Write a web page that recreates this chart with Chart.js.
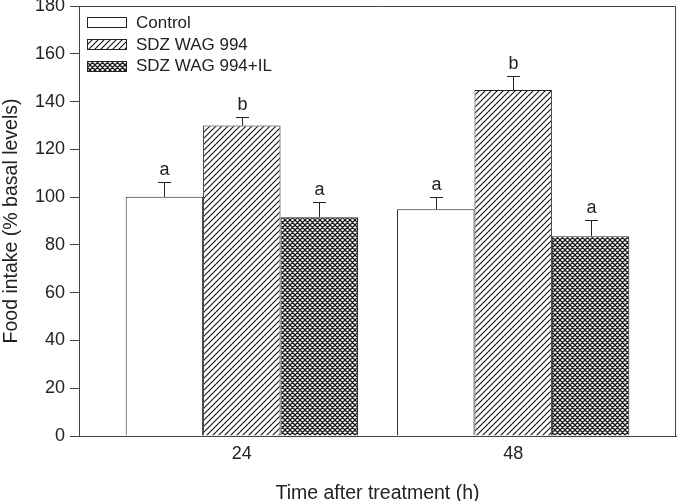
<!DOCTYPE html>
<html>
<head>
<meta charset="utf-8">
<script src="https://cdn.jsdelivr.net/npm/chart.js@4.4.1/dist/chart.umd.min.js"></script>
<style>
html,body{margin:0;padding:0;background:#fff;}
#wrap{width:677px;height:501px;position:relative;}
</style>
</head>
<body>
<div id="wrap"><canvas id="c" width="677" height="501"></canvas></div>
<script>
// ---- data ----
const categories = ['24', '48'];
const seriesNames = ['Control', 'SDZ WAG 994', 'SDZ WAG 994+IL'];
const controlValues = [100.1, 94.9];
const sdzValues = [130.0, 144.8];
const sdzIlValues = [91.6, 83.6];
const controlErrors = [6.2, 5.3];
const sdzErrors = [3.4, 6.0];
const sdzIlErrors = [6.5, 6.8];
const controlLetters = ['a', 'a'];
const sdzLetters = ['b', 'b'];
const sdzIlLetters = ['a', 'a'];
const yTicks = [0, 20, 40, 60, 80, 100, 120, 140, 160, 180];

const INK = '#222';
const FONT = 'Liberation Sans, Arial, Helvetica, sans-serif';

function makeHatch() {
  const c = document.createElement('canvas');
  c.width = 6; c.height = 6;
  const g = c.getContext('2d');
  g.fillStyle = '#fff'; g.fillRect(0, 0, 6, 6);
  g.strokeStyle = '#111'; g.lineWidth = 1.1;
  g.beginPath();
  for (let k = -1; k <= 1; k++) {
    g.moveTo(k * 6 - 1, 7); g.lineTo(k * 6 + 7, -1);
  }
  g.stroke();
  return document.getElementById('c').getContext('2d').createPattern(c, 'repeat');
}
function makeCross() {
  const n = 5;
  const c = document.createElement('canvas');
  c.width = n; c.height = n;
  const g = c.getContext('2d');
  g.fillStyle = '#fff'; g.fillRect(0, 0, n, n);
  g.strokeStyle = '#1a1a1a'; g.lineWidth = 1.3;
  g.beginPath();
  for (let k = -1; k <= 1; k++) {
    g.moveTo(k * n - 1, n + 1); g.lineTo(k * n + n + 1, -1);
    g.moveTo(k * n - 1, -1); g.lineTo(k * n + n + 1, n + 1);
  }
  g.stroke();
  return document.getElementById('c').getContext('2d').createPattern(c, 'repeat');
}

const fills = ['#ffffff', makeHatch(), makeCross()];
const valueSets = [controlValues, sdzValues, sdzIlValues];
const errorSets = [controlErrors, sdzErrors, sdzIlErrors];
const letterSets = [controlLetters, sdzLetters, sdzIlLetters];

const datasets = seriesNames.map((name, s) => ({
  label: name,
  data: categories.map((c, i) => ({ x: i + 1, y: valueSets[s][i] })),
  backgroundColor: fills[s],
  borderColor: INK,
  borderWidth: 1,
  borderSkipped: 'bottom',
  barPercentage: 1.0,
  categoryPercentage: 0.856
}));

const extras = {
  id: 'extras',
  afterDatasetsDraw(chart) {
    const ctx = chart.ctx;
    const ys = chart.scales.y;
    ctx.save();
    ctx.strokeStyle = INK; ctx.lineWidth = 1;
    ctx.fillStyle = INK;
    ctx.font = '18px ' + FONT;
    ctx.textAlign = 'center'; ctx.textBaseline = 'alphabetic';
    chart.data.datasets.forEach((ds, s) => {
      const meta = chart.getDatasetMeta(s);
      meta.data.forEach((bar, i) => {
        const v = valueSets[s][i], e = errorSets[s][i];
        const x = Math.round(bar.x) + 0.5;
        const yTop = ys.getPixelForValue(v);
        const yErr = Math.round(ys.getPixelForValue(v + e)) + 0.5;
        ctx.beginPath();
        ctx.moveTo(x, yTop); ctx.lineTo(x, yErr);
        ctx.moveTo(x - 6.5, yErr); ctx.lineTo(x + 6.5, yErr);
        ctx.stroke();
        ctx.fillText(letterSets[s][i], x, yErr - 8);
      });
    });
    // frame top/right
    const a = chart.chartArea;
    ctx.strokeStyle = '#444';
    ctx.beginPath();
    ctx.moveTo(a.left, a.top + 0.5); ctx.lineTo(a.right - 0.5, a.top + 0.5); ctx.lineTo(a.right - 0.5, a.bottom);
    ctx.stroke();
    // legend
    ctx.textAlign = 'left'; ctx.textBaseline = 'middle';
    ctx.font = '17px ' + FONT;
    const lx = 87.5, bw = 39, bh = 10, rowY = [22, 44, 65.5];
    chart.data.datasets.forEach((ds, s) => {
      const cy = rowY[s];
      ctx.fillStyle = fills[s];
      ctx.fillRect(lx, Math.round(cy - bh / 2) + 0.5, bw, bh);
      ctx.strokeStyle = INK;
      ctx.strokeRect(lx, Math.round(cy - bh / 2) + 0.5, bw, bh);
      ctx.fillStyle = INK;
      ctx.fillText(ds.label, 136, cy + 1);
    });
    ctx.restore();
  }
};

new Chart(document.getElementById('c'), {
  type: 'bar',
  data: { datasets },
  options: {
    responsive: false,
    animation: false,
    devicePixelRatio: 1,
    layout: { padding: { top: 6, right: 1, left: 0, bottom: 0 } },
    plugins: { legend: { display: false }, tooltip: { enabled: false } },
    scales: {
      x: {
        type: 'linear',
        offset: false,
        min: 0.4, max: 2.6,
        afterBuildTicks(scale) { scale.ticks = categories.map((c, i) => ({ value: i + 1 })); },
        afterFit(scale) { scale.height = 65; scale.paddingLeft = 0; scale.paddingRight = 0; },
        ticks: {
          callback: (v) => categories[v - 1] ?? '',
          color: INK, font: { family: FONT, size: 18 }, padding: 7, maxRotation: 0
        },
        grid: { display: false, drawTicks: false, offset: false },
        border: { display: true, color: '#444', width: 1 },
        title: {
          display: true, text: 'Time after treatment (h)', color: INK,
          font: { family: FONT, size: 19.5 }, padding: { top: 0, bottom: -4 }
        }
      },
      y: {
        min: 0, max: 180,
        afterBuildTicks(scale) { scale.ticks = yTicks.map(v => ({ value: v })); },
        afterFit(scale) { scale.width = 79; scale.paddingTop = 0; scale.paddingBottom = 0; },
        ticks: { color: INK, font: { family: FONT, size: 18 }, padding: 5 },
        grid: { drawOnChartArea: false, drawTicks: true, tickLength: 9, color: '#444' },
        border: { display: true, color: '#444', width: 1 },
        title: {
          display: true, text: 'Food intake (% basal levels)', color: INK,
          font: { family: FONT, size: 19.5 }, padding: { top: 0, bottom: 0 }
        }
      }
    }
  },
  plugins: [extras]
});
</script>
</body>
</html>
